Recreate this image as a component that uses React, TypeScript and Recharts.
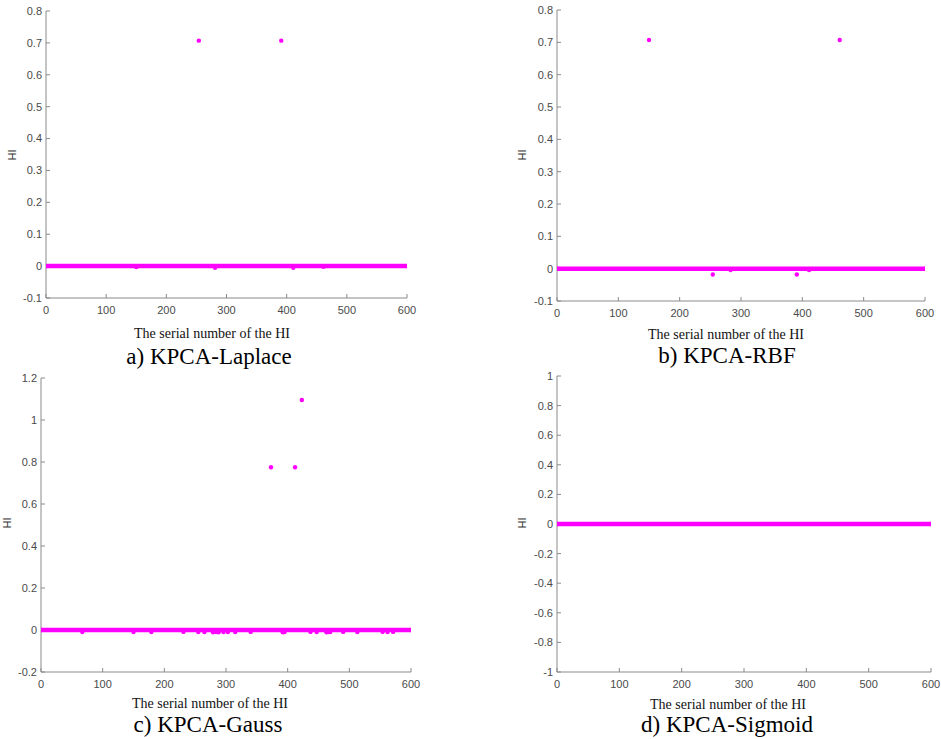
import { ScatterChart, Scatter, XAxis, YAxis } from 'recharts';

// sample index range (HI values sit on zero along the whole range)
const baselineIdx = [1, 600];
const baselineHI = [0, 0];

// points that leave the zero line, per kernel
const laplaceIdx = [150, 254, 281, 391, 411, 461];
const laplaceHI = [-0.003, 0.707, -0.005, 0.707, -0.005, -0.002];

const rbfIdx = [150, 254, 283, 391, 411, 461];
const rbfHI = [0.707, -0.018, -0.004, -0.018, -0.004, 0.707];

const gaussIdx = [67, 150, 179, 231, 255, 265, 279, 284, 288, 296, 303, 315, 340, 373, 392, 395, 412, 423, 437, 447, 463, 466, 469, 490, 513, 554, 562, 571];
const gaussHI = [-0.01, -0.01, -0.01, -0.009, -0.01, -0.01, -0.011, -0.01, -0.011, -0.01, -0.01, -0.01, -0.009, 0.775, -0.011, -0.01, 0.775, 1.095, -0.009, -0.01, -0.011, -0.01, -0.01, -0.009, -0.01, -0.009, -0.01, -0.009];

const sigmoidIdx: number[] = [];
const sigmoidHI: number[] = [];

const X_TICKS = [0, 100, 200, 300, 400, 500, 600];
const Y_TICKS_A = [-0.1, 0, 0.1, 0.2, 0.3, 0.4, 0.5, 0.6, 0.7, 0.8];
const Y_TICKS_C = [-0.2, 0, 0.2, 0.4, 0.6, 0.8, 1, 1.2];
const Y_TICKS_D = [-1, -0.8, -0.6, -0.4, -0.2, 0, 0.2, 0.4, 0.6, 0.8, 1];

const zip = (xs: number[], ys: number[]) => xs.map((x, i) => ({ x, y: ys[i] }));

const MAGENTA = '#ff00ff';
const AXIS = '#8a8a8a';
const TICK_TEXT = '#4a4a4a';

const Dot = (p: any) => <circle cx={p.cx} cy={p.cy} r={2.2} fill={MAGENTA} />;

type PanelProps = {
  box: { L: number; T: number; R: number; B: number };
  idx: number[];
  hi: number[];
  yDomain: [number, number];
  yTicks: number[];
};

function Panel({ box, idx, hi, yDomain, yTicks }: PanelProps) {
  const w = box.R - box.L + 70;
  const h = box.B - box.T + 40;
  const tick = { fontSize: 11, fill: TICK_TEXT, fontFamily: '"Liberation Sans", Arial, sans-serif' };
  return (
    <div style={{ position: 'absolute', left: box.L - 50, top: box.T - 10 }}>
      <ScatterChart width={w} height={h} margin={{ top: 10, right: 20, bottom: 0, left: 0 }}>
        <XAxis
          type="number"
          dataKey="x"
          domain={[0, 600]}
          ticks={X_TICKS}
          allowDataOverflow
          height={30}
          tick={tick}
          stroke={AXIS}
          tickSize={-4}
          tickMargin={12}
        />
        <YAxis
          type="number"
          dataKey="y"
          domain={yDomain}
          ticks={yTicks}
          allowDataOverflow
          width={50}
          tick={tick}
          stroke={AXIS}
          tickSize={-4}
          tickMargin={8}
        />
        <Scatter
          data={zip(baselineIdx, baselineHI)}
          line={{ stroke: MAGENTA, strokeWidth: 4.5, strokeLinecap: 'round' }}
          shape={Dot}
          isAnimationActive={false}
        />
        <Scatter data={zip(idx, hi)} shape={Dot} isAnimationActive={false} />
      </ScatterChart>
    </div>
  );
}

const serif = '"Liberation Serif", "Times New Roman", serif';
const sans = '"Liberation Sans", Arial, sans-serif';

export default function App() {
  return (
    <div style={{ position: 'absolute', left: 0, top: 0, width: 941, height: 739, overflow: 'hidden', background: '#fff' }}>
      <Panel box={{ L: 46, T: 11, R: 407, B: 298 }} idx={laplaceIdx} hi={laplaceHI} yDomain={[-0.1, 0.8]} yTicks={Y_TICKS_A} />
      <Panel box={{ L: 557, T: 10, R: 925, B: 301 }} idx={rbfIdx} hi={rbfHI} yDomain={[-0.1, 0.8]} yTicks={Y_TICKS_A} />
      <Panel box={{ L: 41, T: 378, R: 411, B: 672 }} idx={gaussIdx} hi={gaussHI} yDomain={[-0.2, 1.2]} yTicks={Y_TICKS_C} />
      <Panel box={{ L: 557, T: 376, R: 931, B: 672 }} idx={sigmoidIdx} hi={sigmoidHI} yDomain={[-1, 1]} yTicks={Y_TICKS_D} />

      <svg width={941} height={739} style={{ position: 'absolute', left: 0, top: 0, pointerEvents: 'none' }}>
        <g fontFamily={sans} fontSize={11} fill="#333">
          <text transform="translate(16,155) rotate(-90)" textAnchor="middle">HI</text>
          <text transform="translate(526,155) rotate(-90)" textAnchor="middle">HI</text>
          <text transform="translate(11,523) rotate(-90)" textAnchor="middle">HI</text>
          <text transform="translate(526,523) rotate(-90)" textAnchor="middle">HI</text>
        </g>
        <g fontFamily={serif} fontSize={14} fill="#111" textAnchor="middle">
          <text x={212} y={338}>The serial number of the HI</text>
          <text x={726} y={339}>The serial number of the HI</text>
          <text x={210} y={708}>The serial number of the HI</text>
          <text x={728} y={709}>The serial number of the HI</text>
        </g>
        <g fontFamily={serif} fontSize={23} fill="#000" textAnchor="middle">
          <text x={209} y={364}>a) KPCA-Laplace</text>
          <text x={727} y={363}>b) KPCA-RBF</text>
          <text x={208} y={732}>c) KPCA-Gauss</text>
          <text x={727} y={732}>d) KPCA-Sigmoid</text>
        </g>
      </svg>
    </div>
  );
}
